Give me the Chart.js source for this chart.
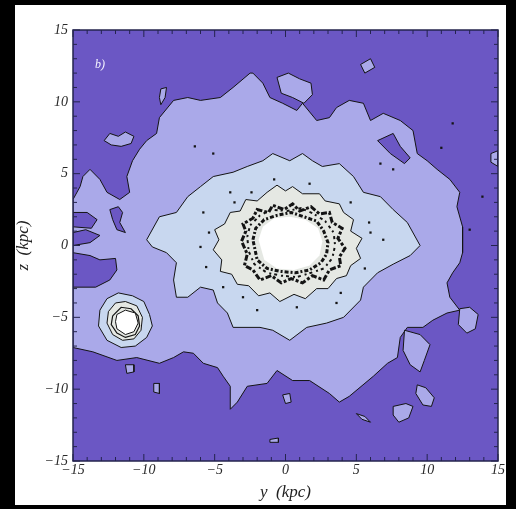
<!DOCTYPE html>
<html><head><meta charset="utf-8">
<script src="https://cdn.jsdelivr.net/npm/chart.js@4.4.1/dist/chart.umd.min.js"></script>
<style>
html,body{margin:0;padding:0;background:#000;width:516px;height:509px;overflow:hidden}
#panel{position:absolute;left:15px;top:5px;width:491px;height:500px;background:#fff}
canvas{display:block}
</style></head><body>
<div id="panel"><canvas id="c" width="491" height="500"></canvas></div>
<script>
// ---- axis ticks ----
const tickValues = [-15, -10, -5, 0, 5, 10, 15];
const minorTickValues = [-15,-14,-13,-12,-11,-10,-9,-8,-7,-6,-5,-4,-3,-2,-1,0,1,2,3,4,5,6,7,8,9,10,11,12,13,14,15];
const panelLabel = 'b)';
const panelLabelPos = [-13.1, 12.6];

// ---- contour polygons, [y, z] in kpc ----
const haloLevel1 = [[-15,3.2],[-14.5,4.1],[-14.3,4.8],[-13.8,5.3],[-13.1,4.6],[-12.6,3.7],[-11.7,3.2],[-11.0,3.7],[-11.2,4.8],[-10.8,5.9],[-10.3,6.7],[-9.8,7.3],[-9.1,7.8],[-8.9,8.9],[-7.9,10.1],[-6.9,10.3],[-6.0,10.1],[-4.6,10.3],[-3.7,11.0],[-2.5,12.0],[-2.3,12.0],[-1.6,11.3],[-1.1,10.3],[-0.2,9.9],[0.8,9.4],[1.2,9.9],[2.2,8.7],[3.1,8.9],[3.6,9.6],[4.5,10.1],[5.5,9.9],[6.0,8.7],[6.9,9.2],[8.1,8.7],[9.0,8.0],[9.3,6.4],[10.0,5.9],[10.7,5.3],[11.6,4.6],[12.3,3.7],[12.1,2.7],[12.5,1.3],[12.5,-0.5],[12.3,-1.2],[11.8,-1.9],[11.4,-2.6],[11.6,-3.6],[12.3,-4.5],[11.4,-4.7],[10.4,-5.2],[9.7,-5.7],[8.6,-5.7],[8.1,-6.4],[7.9,-7.8],[7.2,-8.2],[6.2,-9.1],[4.5,-10.5],[3.8,-10.9],[3.1,-10.3],[1.7,-9.4],[0.5,-9.4],[-0.6,-8.7],[-1.3,-9.6],[-2.7,-9.8],[-3.4,-10.9],[-3.9,-11.4],[-3.9,-9.8],[-4.4,-9.1],[-4.8,-8.5],[-5.8,-8.2],[-6.5,-7.5],[-7.2,-7.4],[-7.9,-7.8],[-8.9,-8.2],[-10.5,-7.8],[-11.9,-8.0],[-13.6,-7.4],[-15,-7.1]];
const darkPatchA = [[-15,-0.5],[-13.8,-0.7],[-13.1,-1.0],[-12.0,-0.9],[-11.9,-1.7],[-12.4,-2.4],[-13.4,-2.9],[-15,-2.9]];
const darkPatchB = [[-15,0.9],[-14.1,1.1],[-13.1,0.7],[-13.8,0.2],[-15,0.0]];
const darkPatchC = [[-15,2.3],[-14.0,2.3],[-13.3,1.8],[-13.7,1.2],[-15,1.3]];
const darkPatchD = [[-12.4,2.5],[-11.8,2.7],[-11.5,2.3],[-11.7,1.6],[-11.3,0.9],[-11.9,1.1],[-12.2,1.8]];
const darkPatchE = [[6.5,7.3],[7.6,7.8],[8.1,6.9],[8.8,6.1],[8.4,5.7],[7.4,6.4]];
const islandA = [[-12.8,7.3],[-12.4,7.8],[-11.8,7.6],[-11.3,7.9],[-10.7,7.6],[-10.9,7.1],[-11.6,6.9],[-12.3,7.0]];
const islandB = [[-8.8,10.9],[-8.4,11.0],[-8.5,10.3],[-8.8,9.8],[-8.9,10.3]];
const islandC = [[-0.6,11.7],[0.2,12.0],[1.0,11.6],[1.8,11.3],[1.9,10.5],[1.3,9.9],[0.5,10.3],[-0.3,10.6]];
const islandD = [[5.3,12.6],[6.0,13.0],[6.3,12.4],[5.6,12.0]];
const islandE = [[14.5,6.4],[15,6.6],[15,5.5],[14.5,5.8]];
const islandF = [[12.3,-4.4],[13.0,-4.3],[13.6,-4.8],[13.4,-5.8],[12.8,-6.1],[12.2,-5.5]];
const islandG = [[9.3,-9.7],[9.9,-9.9],[10.5,-10.6],[10.3,-11.2],[9.7,-11.1],[9.2,-10.3]];
const islandH = [[7.6,-11.2],[8.5,-11.0],[9.0,-11.2],[8.7,-12.0],[8.0,-12.3],[7.6,-11.8]];
const islandI = [[5.0,-11.7],[5.6,-11.9],[6.0,-12.3],[5.4,-12.1]];
const islandJ = [[-0.2,-10.4],[0.3,-10.3],[0.4,-10.9],[0.0,-11.0]];
const islandK = [[-1.1,-13.5],[-0.5,-13.4],[-0.5,-13.7],[-1.1,-13.7]];
const islandL = [[-11.3,-8.3],[-10.7,-8.3],[-10.7,-8.8],[-11.2,-8.9]];
const islandM = [[-9.3,-9.6],[-8.9,-9.6],[-8.9,-10.3],[-9.3,-10.2]];
const islandN = [[8.4,-5.9],[9.5,-6.2],[10.2,-6.9],[9.8,-8.0],[9.5,-8.8],[8.8,-8.3],[8.3,-7.3]];
const diskLevel2 = [[-9.8,0.4],[-8.9,2.0],[-7.7,2.3],[-6.9,3.4],[-6.0,4.1],[-5.1,4.8],[-3.7,5.1],[-2.7,5.5],[-1.6,5.9],[-0.9,6.4],[0.3,5.9],[1.2,6.4],[1.9,5.9],[2.6,5.5],[3.8,5.7],[4.8,4.8],[5.5,3.7],[6.7,3.4],[7.6,2.5],[8.6,1.6],[9.5,0.0],[8.8,-0.7],[7.6,-1.3],[6.5,-1.9],[5.5,-2.9],[5.3,-3.8],[4.1,-5.0],[2.9,-5.4],[1.5,-5.7],[0.3,-6.6],[-0.9,-5.9],[-1.8,-5.7],[-3.7,-5.7],[-4.1,-4.7],[-4.8,-4.0],[-5.1,-3.1],[-6.0,-2.9],[-6.9,-3.6],[-7.7,-3.6],[-7.9,-2.4],[-7.7,-1.2],[-8.4,-0.5],[-9.4,-0.1]];
const bulgeLevel3 = [[-1.3,3.7],[-0.6,4.2],[0.0,3.8],[0.5,4.1],[1.2,3.6],[2.4,3.6],[2.8,3.1],[3.8,2.9],[4.1,2.3],[4.8,1.8],[4.6,1.0],[5.4,0.5],[5.0,-0.2],[5.3,-0.9],[4.6,-1.4],[4.3,-2.1],[3.6,-2.3],[3.0,-3.0],[2.2,-3.0],[1.4,-3.7],[0.6,-3.4],[-0.4,-3.9],[-1.1,-3.3],[-1.9,-3.5],[-2.6,-2.8],[-3.4,-2.7],[-3.8,-2.0],[-4.6,-1.8],[-4.5,-1.0],[-5.1,-0.3],[-4.7,0.4],[-5.0,1.1],[-4.3,1.5],[-3.9,2.3],[-3.2,2.4],[-2.8,3.2],[-2.0,3.1]];
const ringOuter = [[-3.1,0.3],[-2.8,1.0],[-3.0,1.5],[-2.3,1.9],[-2.0,2.5],[-1.2,2.3],[-0.9,2.8],[-0.1,2.5],[0.5,2.9],[1.0,2.4],[1.8,2.7],[2.4,2.2],[3.1,2.3],[3.3,1.6],[4.0,1.2],[3.7,0.5],[4.2,-0.2],[3.8,-0.8],[3.9,-1.4],[3.1,-1.7],[2.7,-2.4],[1.9,-2.1],[1.2,-2.6],[0.4,-2.3],[-0.3,-2.6],[-1.0,-2.1],[-1.8,-2.4],[-2.3,-1.7],[-2.9,-1.4],[-2.7,-0.6]];
const ringMid = [[-2.7,0.6],[-2.5,1.4],[-1.8,2.1],[-1.0,2.5],[0.1,2.4],[1.1,2.6],[2.0,2.2],[2.8,1.7],[3.4,0.9],[3.5,0.0],[3.3,-0.9],[2.7,-1.6],[1.8,-1.9],[0.8,-2.2],[-0.3,-2.1],[-1.3,-1.9],[-2.2,-1.3],[-2.6,-0.4]];
const ringInner = [[-2.3,0.4],[-2.1,1.2],[-1.5,1.8],[-0.6,2.1],[0.4,2.3],[1.3,2.0],[2.2,1.7],[2.7,1.0],[3.0,0.2],[2.9,-0.6],[2.5,-1.2],[1.7,-1.7],[0.7,-1.9],[-0.4,-1.8],[-1.3,-1.6],[-2.0,-1.0]];
const coreLevel4 = [[-1.9,0.4],[-1.6,1.3],[-0.8,1.9],[0.3,2.0],[1.4,1.8],[2.3,1.2],[2.6,0.3],[2.4,-0.7],[1.7,-1.4],[0.6,-1.7],[-0.6,-1.6],[-1.5,-1.0]];
const satLevel2 = [[-13.1,-4.5],[-12.6,-3.7],[-11.8,-3.3],[-10.8,-3.5],[-10.0,-3.9],[-9.6,-4.8],[-9.4,-5.6],[-9.8,-6.4],[-10.6,-7.0],[-11.6,-7.1],[-12.6,-6.6],[-13.2,-5.6]];
const satLevel3 = [[-12.5,-4.6],[-12.0,-4.0],[-11.3,-3.9],[-10.5,-4.2],[-10.1,-5.0],[-10.2,-5.9],[-10.7,-6.5],[-11.5,-6.6],[-12.2,-6.2],[-12.6,-5.4]];
const satRing = [[-12.2,-4.9],[-11.6,-4.3],[-10.9,-4.4],[-10.4,-4.9],[-10.3,-5.6],[-10.6,-6.2],[-11.3,-6.4],[-11.9,-6.1],[-12.3,-5.5]];
const satLevel4 = [[-11.9,-4.8],[-11.3,-4.5],[-10.6,-4.7],[-10.4,-5.4],[-10.7,-6.0],[-11.3,-6.2],[-11.9,-5.8],[-12.0,-5.3]];
const speckles = [[-6.4,6.9],[-5.1,6.4],[-2.4,3.7],[-3.9,3.7],[-5.8,2.3],[-6.0,-0.1],[-4.4,-2.9],[-2.0,-4.5],[0.8,-4.3],[3.6,-4.0],[6.0,0.9],[6.9,0.4],[7.6,5.3],[6.7,5.7],[11.8,8.5],[11.0,6.8],[13.0,1.1],[13.9,3.4],[-5.4,0.9],[-5.6,-1.5],[-3.6,3.0],[4.6,3.0],[5.9,1.6],[5.6,-1.6],[3.9,-3.3],[-3.0,-3.6],[1.7,4.3],[-0.8,4.6]];

// ---- colours ----
const cDark = '#6b57c4', cLav = '#aaa9e9', cBlue = '#c8d7ef', cPale = '#e5e8e3', cWhite = '#ffffff', cLine = '#141414';

function poly(label, pts, fillColor, order, extra) {
  const data = pts.concat([pts[0]]).map(p => ({x: p[0], y: p[1]}));
  return Object.assign({
    label, data, order,
    fill: fillColor ? 'shape' : false,
    backgroundColor: fillColor || 'transparent',
    borderColor: cLine, borderWidth: 1,
    pointRadius: 0, tension: 0
  }, extra || {});
}

const datasets = [
  poly('level1', haloLevel1, cLav, 40),
  poly('darkA', darkPatchA, cDark, 39),
  poly('darkB', darkPatchB, cDark, 39),
  poly('darkC', darkPatchC, cDark, 39),
  poly('darkD', darkPatchD, cDark, 39),
  poly('darkE', darkPatchE, cDark, 39),
  poly('isA', islandA, cLav, 38), poly('isB', islandB, cLav, 38), poly('isC', islandC, cLav, 38),
  poly('isD', islandD, cLav, 38), poly('isE', islandE, cLav, 38), poly('isF', islandF, cLav, 38),
  poly('isG', islandG, cLav, 38), poly('isH', islandH, cLav, 38), poly('isI', islandI, cLav, 38),
  poly('isJ', islandJ, cLav, 38), poly('isK', islandK, cLav, 38), poly('isL', islandL, cLav, 38),
  poly('isM', islandM, cLav, 38), poly('isN', islandN, cLav, 38),
  poly('level2', diskLevel2, cBlue, 30),
  {label:'speckles', data: speckles.map(p => ({x:p[0], y:p[1]})), showLine:false, pointStyle:'rect', pointRadius:1.6, pointBackgroundColor:cLine, pointBorderWidth:0, order:29},
  poly('level3', bulgeLevel3, cPale, 28),
  poly('core', coreLevel4, cWhite, 27, {borderWidth: 0}),
  poly('ringInner', ringInner, null, 26, {borderWidth: 3, borderDash:[4,2,2,2]}),
  poly('ringMid', ringMid, null, 25.5, {borderWidth: 2, borderDash:[2,4,3,3]}),
  poly('ringOuter', ringOuter, null, 25, {borderWidth: 3, borderDash:[6,2,3,2]}),
  poly('sat2', satLevel2, cBlue, 20),
  poly('sat3', satLevel3, cPale, 19),
  poly('satRing', satRing, null, 18, {borderWidth: 1.2}),
  poly('sat4', satLevel4, cWhite, 17)
];

const tickFmt = v => v < 0 ? '\u2212' + Math.abs(v) : String(v);
const tickFont = {family: 'Liberation Serif', style: 'italic', size: 14};

const bgPlugin = {
  id: 'bg',
  beforeDatasetsDraw(chart) {
    const a = chart.chartArea, ctx = chart.ctx;
    ctx.save(); ctx.fillStyle = cDark;
    ctx.fillRect(a.left, a.top, a.right - a.left, a.bottom - a.top);
    ctx.restore();
  }
};
const framePlugin = {
  id: 'frame',
  afterDatasetsDraw(chart) {
    const {ctx, chartArea: a, scales: {x, y}} = chart;
    ctx.save();
    ctx.strokeStyle = '#24244e';
    ctx.lineWidth = 1.5;
    ctx.strokeRect(a.left, a.top, a.right - a.left, a.bottom - a.top);
    ctx.lineWidth = 1;
    ctx.beginPath();
    minorTickValues.forEach(v => {
      const len = tickValues.includes(v) ? 7 : 4;
      const px = x.getPixelForValue(v), py = y.getPixelForValue(v);
      ctx.moveTo(px, a.bottom); ctx.lineTo(px, a.bottom - len);
      ctx.moveTo(px, a.top); ctx.lineTo(px, a.top + len);
      ctx.moveTo(a.left, py); ctx.lineTo(a.left + len, py);
      ctx.moveTo(a.right, py); ctx.lineTo(a.right - len, py);
    });
    ctx.stroke();
    ctx.fillStyle = '#f4f4ff';
    ctx.font = 'italic 12px "Liberation Serif"';
    ctx.textAlign = 'center'; ctx.textBaseline = 'middle';
    ctx.fillText(panelLabel, x.getPixelForValue(panelLabelPos[0]), y.getPixelForValue(panelLabelPos[1]));
    ctx.restore();
  }
};

new Chart(document.getElementById('c'), {
  type: 'line',
  data: {datasets},
  options: {
    responsive: false, animation: false, devicePixelRatio: 1,
    layout: {padding: {left: 0, top: 25, right: 8, bottom: 0}},
    plugins: {legend: {display: false}, tooltip: {enabled: false}},
    scales: {
      x: {
        type: 'linear', min: -15, max: 15,
        afterBuildTicks: s => { s.ticks = tickValues.map(v => ({value: v})); },
        afterFit: s => { s.height = 44; s.paddingLeft = 0; s.paddingRight = 0; },
        grid: {display: false, drawTicks: false}, border: {display: false},
        ticks: {callback: tickFmt, font: tickFont, color: '#2a2a2a', maxRotation: 0, padding: 1},
        title: {display: true, text: 'y  (kpc)', font: {family: 'Liberation Serif', size: 17, style: 'italic'}, color: '#222', padding: {top: 0, bottom: 2}}
      },
      y: {
        type: 'linear', min: -15, max: 15,
        afterBuildTicks: s => { s.ticks = tickValues.map(v => ({value: v})); },
        afterFit: s => { s.width = 58; s.paddingTop = 0; s.paddingBottom = 0; },
        grid: {display: false, drawTicks: false}, border: {display: false},
        ticks: {callback: tickFmt, font: tickFont, color: '#2a2a2a', padding: 5},
        title: {display: true, text: 'z  (kpc)', font: {family: 'Liberation Serif', size: 17, style: 'italic', lineHeight: 1}, color: '#222', padding: {top: 0, bottom: 0}}
      }
    }
  },
  plugins: [bgPlugin, framePlugin]
});
</script>
</body></html>
